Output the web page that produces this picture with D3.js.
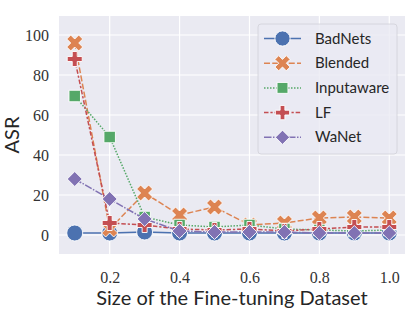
<!DOCTYPE html>
<html>
<head>
<meta charset="utf-8">
<script src="https://cdn.jsdelivr.net/npm/d3@7"></script>
<style>
  html, body { margin: 0; padding: 0; background: #fff; }
  #chart { width: 415px; height: 311px; }
  .tick text { font-family: "Liberation Serif", "DejaVu Serif", serif !important; }
</style>
</head>
<body>
<div id="chart"></div>
<script>
// Data
const sizes = [0.1, 0.2, 0.3, 0.4, 0.5, 0.6, 0.7, 0.8, 0.9, 1.0];
const badnets = [1, 1, 1.5, 1, 1, 1, 1, 1, 1, 1];
const blended = [96, 3, 21, 10, 14, 5, 6, 8.5, 9, 8.5];
const inputaware = [69.5, 49, 9, 5, 4, 5, 3, 2.5, 2, 2.5];
const lf = [88, 6, 5, 3, 2.5, 3, 2, 3, 4, 4];
const wanet = [28, 18, 8, 2, 1.5, 1.5, 1.5, 1, 1, 1];
const seriesNames = ['BadNets', 'Blended', 'Inputaware', 'LF', 'WaNet'];
const xTicks = [0.2, 0.4, 0.6, 0.8, 1.0];
const yTicks = [0, 20, 40, 60, 80, 100];

const seriesValues = [badnets, blended, inputaware, lf, wanet];
const colors = ['#4c72b0', '#dd8452', '#55a868', '#c44e52', '#8172b3'];
const dashes = [null, '6,2.25', '1.5,1.5', '4.5,1.9,2.25,1.9', '7.5,1.5,1.5,1.5'];
const markers = ['circle', 'x', 'square', 'plus', 'diamond'];
const sansFont = '"Lato", "DejaVu Sans", sans-serif';
const serifFont = '"Liberation Serif", "DejaVu Serif", serif';

// Marker path centred on 0,0; s = overall size in px
function markerPath(type, s) {
  const h = s / 2;
  const poly = pts => 'M' + pts.map(p => p.join(',')).join('L') + 'Z';
  if (type === 'circle') {
    return `M${h},0A${h},${h} 0 1,1 ${-h},0A${h},${h} 0 1,1 ${h},0Z`;
  }
  if (type === 'square') return poly([[-h, -h], [h, -h], [h, h], [-h, h]]);
  if (type === 'diamond') return poly([[0, -h], [h, 0], [0, h], [-h, 0]]);
  if (type === 'plus') {
    const a = h / 3;
    return poly([[-a, -h], [a, -h], [a, -a], [h, -a], [h, a], [a, a], [a, h], [-a, h], [-a, a], [-h, a], [-h, -a], [-a, -a]]);
  }
  // filled x
  const u = h / 2;
  return poly([[-u, -h], [0, -u], [u, -h], [h, -u], [u, 0], [h, u], [u, h], [0, u], [-u, h], [-h, u], [-u, 0], [-h, -u]]);
}
const markerSize = { circle: 16, x: 16, square: 11.5, plus: 15, diamond: 15 };

const margin = { top: 16, right: 10, bottom: 57, left: 59 };
const width = 415 - margin.left - margin.right;
const height = 311 - margin.top - margin.bottom;

const svg = d3.select('#chart')
  .append('svg')
  .attr('width', 415)
  .attr('height', 311)
  .style('font-family', sansFont);

const g = svg.append('g')
  .attr('transform', `translate(${margin.left},${margin.top})`);

const x = d3.scaleLinear().domain([0.055, 1.045]).range([0, width]);
const y = d3.scaleLinear().domain([-9.5, 109.5]).range([height, 0]);

// Background
g.append('rect')
  .attr('width', width)
  .attr('height', height)
  .attr('fill', '#eaeaf2');

// Grid
g.selectAll('.vgrid')
  .data(xTicks)
  .enter().append('line')
  .attr('x1', d => x(d)).attr('x2', d => x(d))
  .attr('y1', 0).attr('y2', height)
  .attr('stroke', '#fff').attr('stroke-width', 1.2);

g.selectAll('.hgrid')
  .data(yTicks)
  .enter().append('line')
  .attr('x1', 0).attr('x2', width)
  .attr('y1', d => y(d)).attr('y2', d => y(d))
  .attr('stroke', '#fff').attr('stroke-width', 1.2);

// Axes (labels only, seaborn darkgrid has no ticks/spines)
const xAxis = g.append('g')
  .attr('transform', `translate(0,${height})`)
  .call(d3.axisBottom(x).tickValues(xTicks).tickFormat(d3.format('.1f')).tickSize(0).tickPadding(18));
const yAxis = g.append('g')
  .call(d3.axisLeft(y).tickValues(yTicks).tickSize(0).tickPadding(10));
[xAxis, yAxis].forEach(ax => {
  ax.attr('font-family', serifFont).attr('font-size', 16);
  ax.select('.domain').remove();
  ax.selectAll('text')
    .attr('font-family', serifFont)
    .style('font-size', '16px')
    .style('fill', '#333');
});

// Lines and markers
const line = d3.line()
  .x((d, i) => x(sizes[i]))
  .y(d => y(d));

seriesValues.forEach((vals, k) => {
  g.append('path')
    .datum(vals)
    .attr('fill', 'none')
    .attr('stroke', colors[k])
    .attr('stroke-width', 1.5)
    .attr('stroke-dasharray', dashes[k])
    .attr('d', line);

  g.selectAll(`.m${k}`)
    .data(vals)
    .enter().append('path')
    .attr('transform', (d, i) => `translate(${x(sizes[i])},${y(d)})`)
    .attr('d', markerPath(markers[k], markerSize[markers[k]]))
    .attr('fill', colors[k])
    .attr('stroke', '#fff')
    .attr('stroke-width', 0.9);
});

// Axis titles
svg.append('text')
  .attr('x', margin.left + x(0.55))
  .attr('y', 305)
  .attr('text-anchor', 'middle')
  .style('font-size', '20px')
  .style('fill', '#262626')
  .text('Size of the Fine-tuning Dataset');

svg.append('text')
  .attr('transform', `translate(19,${margin.top + y(50)}) rotate(-90)`)
  .attr('text-anchor', 'middle')
  .style('font-size', '20px')
  .style('fill', '#262626')
  .text('ASR');

// Legend
const legend = svg.append('g')
  .attr('transform', 'translate(258,24)');

legend.append('rect')
  .attr('width', 139)
  .attr('height', 130)
  .attr('rx', 3)
  .attr('fill', '#eaeaf2')
  .attr('fill-opacity', 0.8)
  .attr('stroke', '#d0d0d8')
  .attr('stroke-width', 0.8);

seriesNames.forEach((name, k) => {
  const row = legend.append('g')
    .attr('transform', `translate(0,${14.5 + k * 24.7})`);
  row.append('line')
    .attr('x1', 6).attr('x2', 43)
    .attr('stroke', colors[k])
    .attr('stroke-width', 1.5)
    .attr('stroke-dasharray', dashes[k]);
  row.append('path')
    .attr('transform', 'translate(24.5,0)')
    .attr('d', markerPath(markers[k], markerSize[markers[k]] * 0.95))
    .attr('fill', colors[k])
    .attr('stroke', '#fff')
    .attr('stroke-width', 0.9);
  row.append('text')
    .attr('x', 57)
    .attr('y', 5)
    .style('font-size', '15px')
    .style('fill', '#262626')
    .text(name);
});
</script>
</body>
</html>
